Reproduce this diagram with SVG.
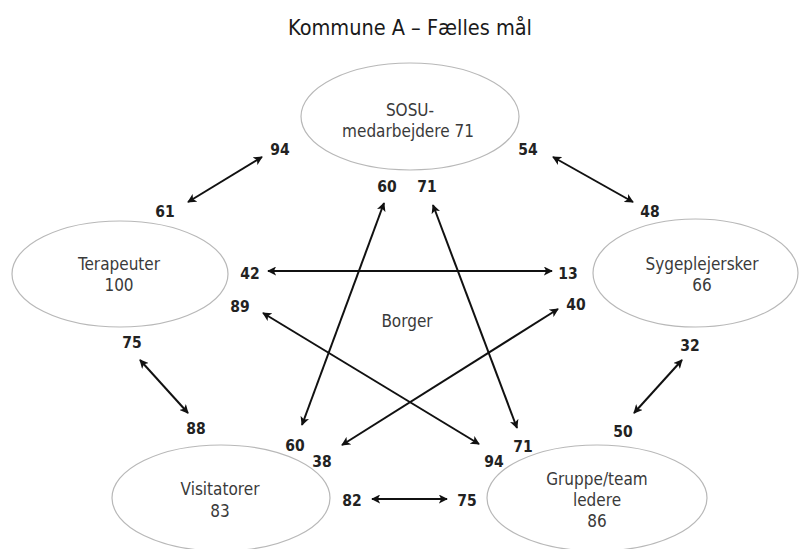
<svg xmlns="http://www.w3.org/2000/svg" width="800" height="549" viewBox="0 0 800 549">
<defs>
<marker id="ah" viewBox="0 0 10 10" refX="9" refY="5" markerWidth="9" markerHeight="9" markerUnits="userSpaceOnUse" orient="auto-start-reverse">
<path d="M0,0 L10,5 L0,10 L2.5,5 Z" fill="#111"/>
</marker>
<style>
.bg{fill:#fff}
.node ellipse{fill:#fff;stroke:#b8b8b8;stroke-width:1.2}
.lbl{font-family:"DejaVu Sans Condensed","DejaVu Sans",sans-serif;font-size:17px;fill:#3a3a3a;text-anchor:middle}
.num{font-family:"DejaVu Sans Condensed","DejaVu Sans",sans-serif;font-size:15.5px;font-weight:bold;fill:#222;text-anchor:middle}
.title{font-family:"DejaVu Sans Condensed","DejaVu Sans",sans-serif;font-size:21.5px;fill:#1a1a1a;text-anchor:middle}
#connectors line{stroke:#111;stroke-width:2;marker-start:url(#ah);marker-end:url(#ah)}
</style>
</defs>
<rect class="bg" x="0" y="0" width="800" height="549"/>
<text class="title" x="410" y="35">Kommune A – Fælles mål</text>

<g id="sosu" class="node">
<ellipse cx="410" cy="116.5" rx="109" ry="53.5"/>
<text class="lbl" x="410" y="116">SOSU-</text>
<text class="lbl" x="408" y="137">medarbejdere 71</text>
</g>
<g id="terapeuter" class="node">
<ellipse cx="120" cy="274" rx="108" ry="53"/>
<text class="lbl" x="119" y="270">Terapeuter</text>
<text class="lbl" x="119" y="291">100</text>
</g>
<g id="sygeplejersker" class="node">
<ellipse cx="695.5" cy="273" rx="102.5" ry="54"/>
<text class="lbl" x="702" y="270">Sygeplejersker</text>
<text class="lbl" x="702" y="291">66</text>
</g>
<g id="visitatorer" class="node">
<ellipse cx="221" cy="498" rx="109" ry="53"/>
<text class="lbl" x="220" y="495">Visitatorer</text>
<text class="lbl" x="220" y="517">83</text>
</g>
<g id="gruppe" class="node">
<ellipse cx="597" cy="498" rx="110" ry="53"/>
<text class="lbl" x="597" y="485">Gruppe/team</text>
<text class="lbl" x="597" y="506">ledere</text>
<text class="lbl" x="597" y="527">86</text>
</g>
<g id="borger">
<text class="lbl" x="407" y="327">Borger</text>
</g>

<g id="connectors">
<line x1="188" y1="202" x2="262" y2="157"/>
<line x1="553" y1="157" x2="633" y2="202"/>
<line x1="268" y1="271" x2="552" y2="271"/>
<line x1="384" y1="203" x2="302" y2="425"/>
<line x1="433" y1="205" x2="517" y2="428"/>
<line x1="263" y1="313" x2="479" y2="444"/>
<line x1="558" y1="309" x2="342" y2="445"/>
<line x1="140" y1="360" x2="188" y2="413"/>
<line x1="682" y1="360" x2="634" y2="413"/>
<line x1="372" y1="499" x2="447" y2="499"/>
</g>

<g id="numbers">
<text class="num" x="280" y="155">94</text>
<text class="num" x="528" y="155">54</text>
<text class="num" x="387" y="192">60</text>
<text class="num" x="427" y="192">71</text>
<text class="num" x="165" y="217">61</text>
<text class="num" x="650" y="217">48</text>
<text class="num" x="250" y="279">42</text>
<text class="num" x="568" y="279">13</text>
<text class="num" x="240" y="312">89</text>
<text class="num" x="576" y="310">40</text>
<text class="num" x="132" y="348">75</text>
<text class="num" x="690" y="351">32</text>
<text class="num" x="196" y="434">88</text>
<text class="num" x="623" y="437">50</text>
<text class="num" x="295" y="451">60</text>
<text class="num" x="322" y="467">38</text>
<text class="num" x="523" y="452">71</text>
<text class="num" x="494" y="467">94</text>
<text class="num" x="352" y="506">82</text>
<text class="num" x="467" y="506">75</text>
</g>
</svg>
